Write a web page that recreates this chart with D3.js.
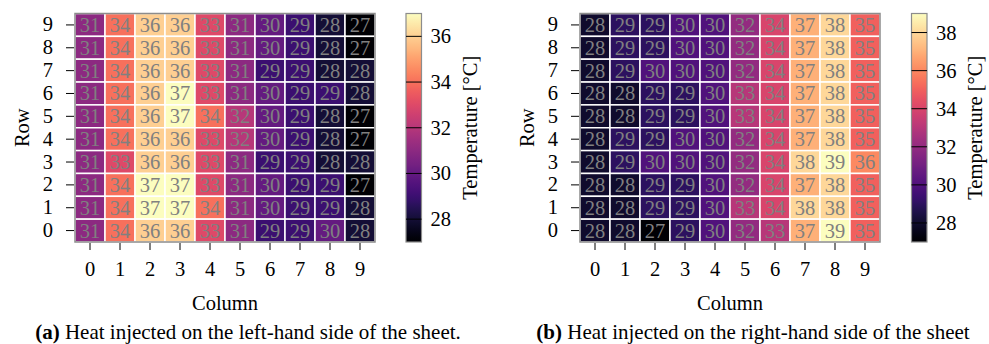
<!DOCTYPE html>
<html>
<head>
<meta charset="utf-8">
<script src="https://cdn.jsdelivr.net/npm/d3@7"></script>
<style>
  body { margin: 0; background: #fff; }
  text { font-family: "Liberation Serif", "Times New Roman", serif; }
</style>
</head>
<body>
<div id="chart"></div>
<script>
// rows listed top to bottom (row 9 first)
var rowLabels = [9, 8, 7, 6, 5, 4, 3, 2, 1, 0];
var colLabels = [0, 1, 2, 3, 4, 5, 6, 7, 8, 9];

var tempLeft = [
  [31, 34, 36, 36, 33, 31, 30, 29, 28, 27],
  [31, 34, 36, 36, 33, 31, 30, 29, 28, 27],
  [31, 34, 36, 36, 33, 31, 29, 29, 28, 28],
  [31, 34, 36, 37, 33, 31, 30, 29, 29, 28],
  [31, 34, 36, 37, 34, 32, 30, 29, 28, 27],
  [31, 34, 36, 36, 33, 32, 30, 29, 28, 27],
  [31, 33, 36, 36, 33, 31, 29, 29, 28, 28],
  [31, 34, 37, 37, 33, 31, 30, 29, 29, 27],
  [31, 34, 37, 37, 34, 31, 30, 29, 29, 28],
  [31, 34, 36, 36, 33, 31, 29, 29, 30, 28]
];

var tempRight = [
  [28, 29, 29, 30, 30, 32, 34, 37, 38, 35],
  [28, 29, 29, 30, 30, 32, 34, 37, 38, 35],
  [28, 29, 30, 30, 30, 32, 34, 37, 38, 35],
  [28, 28, 29, 29, 30, 33, 34, 37, 38, 35],
  [28, 28, 29, 29, 30, 33, 34, 37, 38, 35],
  [28, 29, 29, 30, 30, 32, 34, 37, 38, 35],
  [28, 29, 30, 30, 30, 32, 34, 38, 39, 36],
  [28, 28, 29, 29, 30, 32, 34, 37, 38, 35],
  [28, 28, 29, 29, 30, 33, 34, 38, 38, 35],
  [28, 28, 27, 29, 30, 32, 33, 37, 39, 35]
];

var ticksLeft = [28, 30, 32, 34, 36];
var ticksRight = [28, 30, 32, 34, 36, 38];

var captionLeft = ["(a)", " Heat injected on the left-hand side of the sheet."];
var captionRight = ["(b)", " Heat injected on the right-hand side of the sheet"];

var W = 989, H = 344;
var svg = d3.select("#chart").append("svg")
    .attr("width", W)
    .attr("height", H);

var fs = 20.5;

function panel(id, data, domain, ticks, caption, opt) {
  var g = svg.append("g").attr("id", id);
  var left = opt.left, top = 13.5, width = 300, height = 228.5;

  var x = d3.scaleBand().domain(colLabels).range([left, left + width]);
  var y = d3.scaleBand().domain(rowLabels).range([top, top + height]);
  var color = d3.scaleSequential(d3.interpolateMagma).domain(domain);

  var cells = [];
  data.forEach(function(row, i) {
    row.forEach(function(v, j) {
      cells.push({r: rowLabels[i], c: colLabels[j], v: v});
    });
  });

  g.selectAll("rect.cell")
    .data(cells)
    .enter().append("rect")
      .attr("class", "cell")
      .attr("x", function(d) { return x(d.c); })
      .attr("y", function(d) { return y(d.r); })
      .attr("width", x.bandwidth())
      .attr("height", y.bandwidth())
      .attr("fill", function(d) { return color(d.v); })
      .attr("stroke", "#fff")
      .attr("stroke-width", 1.5);

  g.selectAll("text.val")
    .data(cells)
    .enter().append("text")
      .attr("class", "val")
      .attr("x", function(d) { return x(d.c) + x.bandwidth() / 2; })
      .attr("y", function(d) { return y(d.r) + y.bandwidth() / 2 + 7; })
      .attr("text-anchor", "middle")
      .attr("font-size", fs)
      .attr("fill", "#808080")
      .text(function(d) { return d.v; });

  // frame
  g.append("rect")
    .attr("x", left).attr("y", top)
    .attr("width", width).attr("height", height)
    .attr("fill", "none")
    .attr("stroke", "#8c8c8c")
    .attr("stroke-width", 1.5);

  // axes
  var xAxis = g.append("g")
    .attr("transform", "translate(0," + (top + height + 1) + ")")
    .call(d3.axisBottom(x).tickSize(7).tickPadding(11));
  var yAxis = g.append("g")
    .attr("transform", "translate(" + (left - 1) + ",0)")
    .call(d3.axisLeft(y).tickSize(8).tickPadding(13));
  [xAxis, yAxis].forEach(function(a) {
    a.select(".domain").remove();
    a.selectAll("line").attr("stroke", "#000");
    a.selectAll("text")
      .attr("font-size", fs)
      .attr("font-family", "Liberation Serif, Times New Roman, serif")
      .attr("fill", "#000");
  });

  g.append("text")
    .attr("x", left + width / 2)
    .attr("y", 310)
    .attr("text-anchor", "middle")
    .attr("font-size", fs)
    .text("Column");

  g.append("text")
    .attr("transform", "translate(" + (left - 46) + "," + (top + height / 2) + ") rotate(-90)")
    .attr("text-anchor", "middle")
    .attr("font-size", fs)
    .text("Row");

  // colorbar
  var cbx = opt.cbx, cbw = 15.5;
  var cy = d3.scaleLinear().domain(domain).range([top + height, top]);
  var gradId = id + "-grad";
  var grad = svg.append("defs").append("linearGradient")
    .attr("id", gradId)
    .attr("x1", 0).attr("y1", 1).attr("x2", 0).attr("y2", 0);
  d3.range(0, 1.0001, 0.02).forEach(function(t) {
    grad.append("stop")
      .attr("offset", t)
      .attr("stop-color", d3.interpolateMagma(t));
  });
  g.append("rect")
    .attr("x", cbx).attr("y", top)
    .attr("width", cbw).attr("height", height)
    .attr("fill", "url(#" + gradId + ")")
    .attr("stroke", "#8c8c8c")
    .attr("stroke-width", 1.2);
  g.selectAll("line.cbt")
    .data(ticks)
    .enter().append("line")
      .attr("class", "cbt")
      .attr("x1", cbx).attr("x2", cbx + cbw)
      .attr("y1", function(d) { return cy(d); })
      .attr("y2", function(d) { return cy(d); })
      .attr("stroke", "#000")
      .attr("stroke-width", 1);
  g.selectAll("text.cbl")
    .data(ticks)
    .enter().append("text")
      .attr("class", "cbl")
      .attr("x", cbx + cbw + 9)
      .attr("y", function(d) { return cy(d) + 7; })
      .attr("font-size", fs)
      .text(function(d) { return d; });
  g.append("text")
    .attr("transform", "translate(" + (cbx + cbw + 55) + "," + (top + height / 2) + ") rotate(-90)")
    .attr("text-anchor", "middle")
    .attr("font-size", fs)
    .text("Temperature [°C]");

  // caption
  var cap = g.append("text")
    .attr("x", opt.capx)
    .attr("y", 339)
    .attr("text-anchor", "middle")
    .attr("font-size", 21);
  cap.append("tspan").attr("font-weight", "bold").text(caption[0]);
  cap.append("tspan").text(caption[1]);
}

panel("pa", tempLeft, [27, 37], ticksLeft, captionLeft, {left: 75, cbx: 406, capx: 248});
panel("pb", tempRight, [27, 39], ticksRight, captionRight, {left: 580, cbx: 911.5, capx: 753});
</script>
</body>
</html>
